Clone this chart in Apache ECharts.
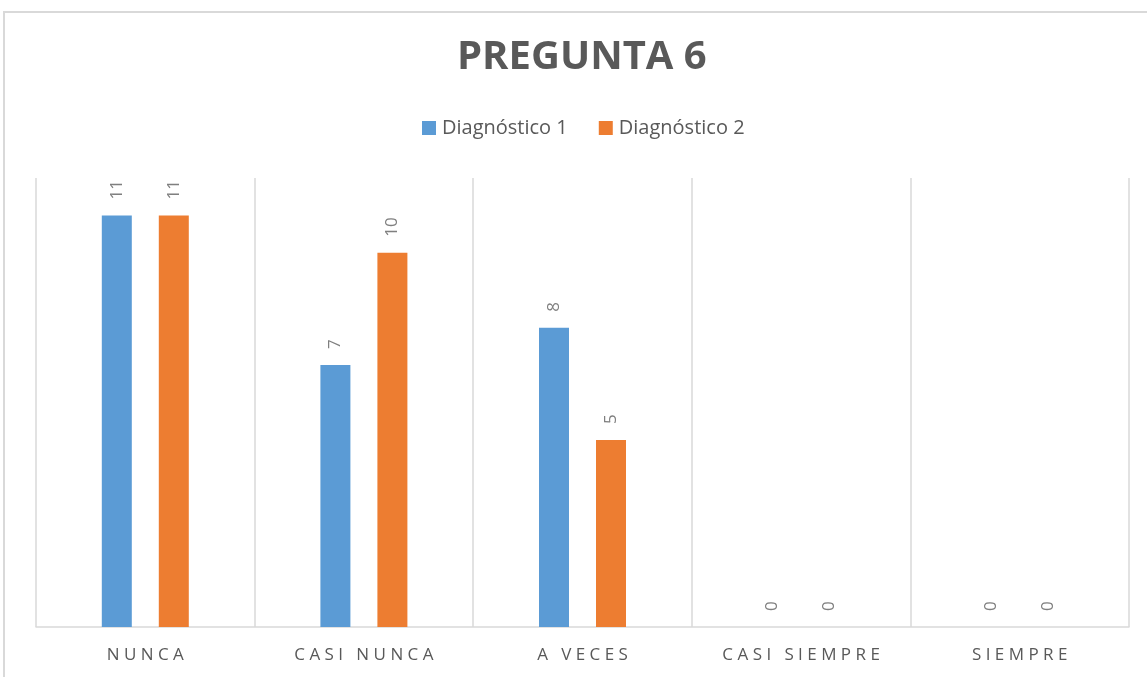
<!DOCTYPE html>
<html>
<head>
<meta charset="utf-8">
<script src="https://cdn.jsdelivr.net/npm/echarts@6/dist/echarts.min.js"></script>
<style>
  html, body { margin: 0; padding: 0; background: #fff; }
  .frame { position: absolute; left: 3px; top: 11px; width: 1200px; height: 720px; border: 2px solid #d9d9d9; }
  #chart { position: absolute; left: 0; top: 0; width: 1147px; height: 677px; }
</style>
</head>
<body>
<div class="frame"></div>
<div id="chart"></div>
<script>
// datos del gráfico
const categorias = ['NUNCA', 'CASI NUNCA', 'A VECES', 'CASI SIEMPRE', 'SIEMPRE']
const diagnostico1 = [11, 7, 8, 0, 0]
const diagnostico2 = [11, 10, 5, 0, 0]
const nombresSeries = ['Diagnóstico 1', 'Diagnóstico 2']

const chart = echarts.init(document.getElementById('chart'))

// espaciado entre letras de las etiquetas del eje
const espaciar = (txt) => txt.split('').join(' ')

const etiqueta = {
  show: true,
  position: 'top',
  rotate: 90,
  align: 'left',
  verticalAlign: 'middle',
  distance: 16,
  color: '#7f7f7f',
  fontSize: 17,
  fontFamily: 'Open Sans'
}

const option = {
  backgroundColor: 'transparent',
  title: {
    text: 'PREGUNTA 6',
    left: 452,
    top: 33,
    textStyle: {
      color: '#595959',
      fontSize: 40,
      fontWeight: 'bold',
      fontFamily: 'Open Sans'
    }
  },
  legend: {
    top: 113,
    left: 417,
    itemWidth: 14,
    itemHeight: 14,
    itemGap: 31,
    icon: 'rect',
    textStyle: {
      color: '#595959',
      fontSize: 20,
      fontFamily: 'Open Sans',
      padding: [0, 0, 0, 1]
    },
    data: nombresSeries
  },
  grid: {
    left: 36,
    right: 18,
    top: 178,
    bottom: 50
  },
  xAxis: {
    type: 'category',
    data: categorias,
    axisLine: { lineStyle: { color: '#d9d9d9', width: 1.5 } },
    axisTick: { show: false },
    splitLine: { show: true, lineStyle: { color: '#d9d9d9', width: 1.5 } },
    axisLabel: {
      color: '#595959',
      fontSize: 17,
      fontFamily: 'Open Sans',
      margin: 20,
      formatter: espaciar
    }
  },
  yAxis: {
    type: 'value',
    min: 0,
    max: 12,
    show: false,
    splitLine: { show: false }
  },
  series: [
    {
      name: nombresSeries[0],
      type: 'bar',
      data: diagnostico1,
      barWidth: 30,
      barGap: '90%',
      itemStyle: { color: '#5B9BD5' },
      label: etiqueta
    },
    {
      name: nombresSeries[1],
      type: 'bar',
      data: diagnostico2,
      barWidth: 30,
      itemStyle: { color: '#ED7D31' },
      label: etiqueta
    }
  ]
}

chart.setOption(option)
</script>
</body>
</html>
